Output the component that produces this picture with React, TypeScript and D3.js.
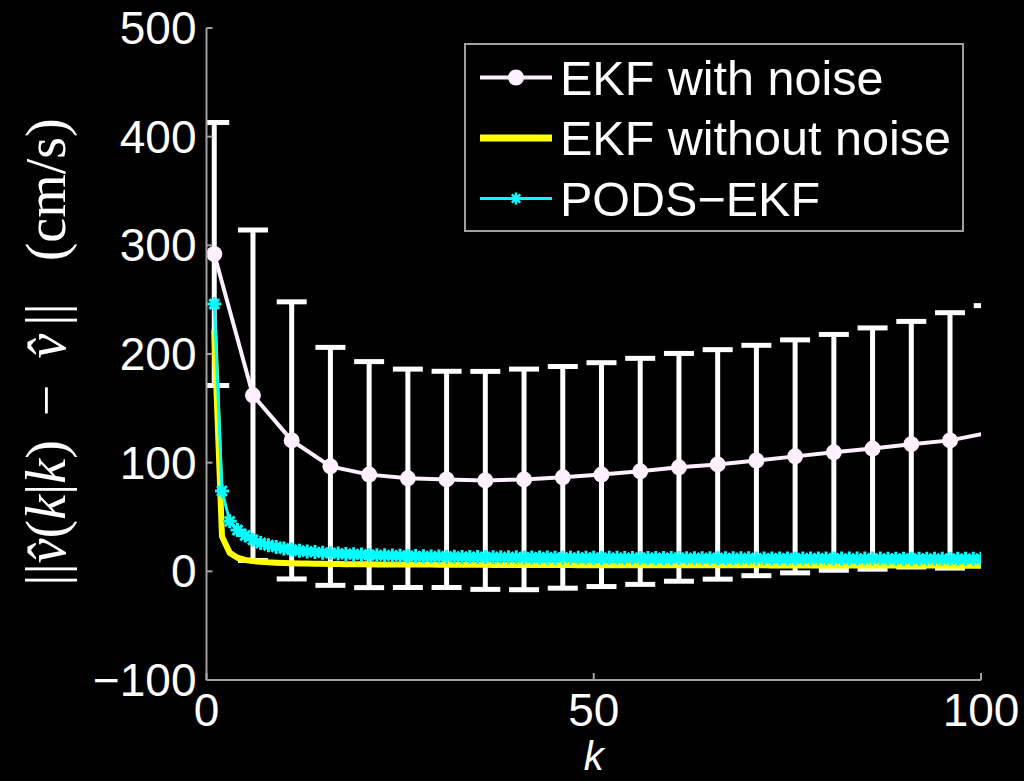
import React from 'react';
import * as d3 from 'd3';

// EKF with noise: mean and std at every 5th step (last one sits just past the axis)
const noiseK = [1, 6, 11, 16, 21, 26, 31, 36, 41, 46, 51, 56, 61, 66, 71, 76, 81, 86, 91, 96, 101];
const noiseMean = [292, 162, 120.5, 96.6, 89, 85.6, 84.6, 83.7, 84.6, 86.5, 89, 92, 95.7, 98.4, 102, 105.8, 109.5, 113, 117, 120.5, 127.5];
const noiseStd = [121, 152, 127.5, 109.5, 104, 100.5, 99.5, 100.3, 101.5, 102, 103, 104, 104.8, 105.6, 106, 107.2, 108.5, 111, 113, 117.5, 117];

// EKF without noise, k = 1..100
const cleanVals = [
  222, 32, 17, 12.5, 10.5, 9.5, 8.8, 8.3, 8.0, 7.7,
  7.5, 7.3, 7.1, 7.0, 6.9, 6.8, 6.7, 6.6, 6.6, 6.5,
  6.5, 6.4, 6.4, 6.3, 6.3, 6.3, 6.2, 6.2, 6.2, 6.1,
  6.1, 6.1, 6.0, 6.0, 6.0, 6.0, 5.9, 5.9, 5.9, 5.9,
  5.9, 5.8, 5.8, 5.8, 5.8, 5.8, 5.8, 5.7, 5.7, 5.7,
  5.7, 5.7, 5.7, 5.7, 5.6, 5.6, 5.6, 5.6, 5.6, 5.6,
  5.6, 5.6, 5.5, 5.5, 5.5, 5.5, 5.5, 5.5, 5.5, 5.5,
  5.5, 5.5, 5.4, 5.4, 5.4, 5.4, 5.4, 5.4, 5.4, 5.4,
  5.4, 5.4, 5.4, 5.3, 5.3, 5.3, 5.3, 5.3, 5.3, 5.3,
  5.3, 5.3, 5.3, 5.3, 5.3, 5.2, 5.2, 5.2, 5.2, 5.2,
];

// PODS-EKF, k = 1..100
const podsVals = [
  246, 74, 46, 38, 33, 29, 26, 24, 22.5, 21,
  20, 19, 18.3, 17.7, 17.2, 16.8, 16.4, 16, 15.7, 15.4,
  15.1, 14.9, 14.7, 14.5, 14.3, 14.1, 14.0, 13.8, 13.7, 13.6,
  13.5, 13.4, 13.3, 13.2, 13.2, 13.1, 13.0, 13.0, 12.9, 12.9,
  12.8, 12.8, 12.7, 12.7, 12.6, 12.6, 12.6, 12.5, 12.5, 12.5,
  12.4, 12.4, 12.4, 12.3, 12.3, 12.3, 12.3, 12.2, 12.2, 12.2,
  12.2, 12.1, 12.1, 12.1, 12.1, 12.0, 12.0, 12.0, 12.0, 12.0,
  11.9, 11.9, 11.9, 11.9, 11.9, 11.8, 11.8, 11.8, 11.8, 11.8,
  11.8, 11.7, 11.7, 11.7, 11.7, 11.7, 11.7, 11.6, 11.6, 11.6,
  11.6, 11.6, 11.6, 11.6, 11.5, 11.5, 11.5, 11.5, 11.5, 11.5,
];

const yTicks = [-100, 0, 100, 200, 300, 400, 500];
const xTicks = [0, 50, 100];
const legendLabels = ['EKF with noise', 'EKF without noise', 'PODS\u2212EKF'];

const W = 1024;
const H = 781;
const L = 206.5, R = 981, T = 28, B = 680;
const font = '"Liberation Sans", Arial, sans-serif';
const pink = '#fff0ff';

const starPath = (s: number) =>
  `M${-s},0H${s}M0,${-s}V${s}M${-s * 0.7},${-s * 0.7}L${s * 0.7},${s * 0.7}M${-s * 0.7},${s * 0.7}L${s * 0.7},${-s * 0.7}`;

export default function App() {
  const x = d3.scaleLinear().domain([0, 100]).range([L, R]);
  const y = d3.scaleLinear().domain([-100, 500]).range([B, T]);
  const kIdx = d3.range(1, 101);

  const line = d3.line<[number, number]>().x(d => x(d[0])).y(d => y(d[1]));
  const noisePts: [number, number][] = noiseK.map((k, i) => [k, noiseMean[i]]);
  const cleanPts: [number, number][] = kIdx.map((k, i) => [k, cleanVals[i]]);
  const podsPts: [number, number][] = kIdx.map((k, i) => [k, podsVals[i]]);
  const capW = 15;

  return (
    <svg width={W} height={H} style={{ position: 'absolute', left: 0, top: 0, background: '#000' }}>
      <rect width={W} height={H} fill="#000" />
      <defs>
        <clipPath id="plot">
          <rect x={L} y={T} width={R - L} height={B - T} />
        </clipPath>
      </defs>

      <g clipPath="url(#plot)">
        {/* error bars */}
        {noiseK.map((k, i) => {
          const cx = x(k);
          const hi = y(noiseMean[i] + noiseStd[i]);
          const lo = y(noiseMean[i] - noiseStd[i]);
          return (
            <g key={k} stroke="#fff" strokeWidth={5}>
              <line x1={cx} x2={cx} y1={hi} y2={lo} />
              <line x1={cx - capW} x2={cx + capW} y1={hi} y2={hi} />
              <line x1={cx - capW} x2={cx + capW} y1={lo} y2={lo} />
            </g>
          );
        })}
        <path d={line(noisePts) ?? ''} fill="none" stroke={pink} strokeWidth={4} />
        {noiseK.filter(k => k <= 100).map((k, i) => (
          <circle key={k} cx={x(k)} cy={y(noiseMean[i])} r={8} fill={pink} />
        ))}
        <path d={line(cleanPts) ?? ''} fill="none" stroke="#ffff00" strokeWidth={6} strokeLinejoin="round" />
        <path d={line(podsPts) ?? ''} fill="none" stroke="#00ffff" strokeWidth={3} />
        {podsPts.map(p => (
          <path key={p[0]} transform={`translate(${x(p[0])},${y(p[1])})`} d={starPath(7)} stroke="#00ffff" strokeWidth={3} />
        ))}
      </g>

      {/* axes */}
      <g stroke="#a0a0a0" strokeWidth={2} fill="none">
        <line x1={L} x2={L} y1={T} y2={B} />
        <line x1={L} x2={R} y1={B} y2={B} />
        {yTicks.map(t => (
          <line key={t} x1={L} x2={L + 6} y1={y(t)} y2={y(t)} />
        ))}
        {xTicks.map(t => (
          <line key={t} x1={x(t)} x2={x(t)} y1={B} y2={B - 7} />
        ))}
      </g>
      <g fill="#fff" fontFamily={font} fontSize={46}>
        {yTicks.map(t => (
          <text key={t} x={L - 10} y={y(t)} textAnchor="end" dominantBaseline="central">
            {t < 0 ? `\u2212${Math.abs(t)}` : t}
          </text>
        ))}
        {xTicks.map(t => (
          <text key={t} x={x(t)} y={710} textAnchor="middle" dominantBaseline="central">
            {t}
          </text>
        ))}
        <text x={x(50)} y={770} textAnchor="middle" fontStyle="italic" fontSize={40}>k</text>
      </g>

      {/* y label */}
      <text
        transform={`translate(46,352) rotate(-90)`}
        textAnchor="middle"
        dominantBaseline="central"
        fill="#fff"
        fontFamily='"Liberation Serif", "DejaVu Serif", serif'
        fontSize={56}
      >
        <tspan>||</tspan>
        <tspan fontStyle="italic">{'v\u0302'}</tspan>
        <tspan>(</tspan>
        <tspan fontStyle="italic">k</tspan>
        <tspan>|</tspan>
        <tspan fontStyle="italic">k</tspan>
        <tspan>)</tspan>
        <tspan dx={24}>{'\u2212'}</tspan>
        <tspan dx={26} fontStyle="italic">{'v\u0302'}</tspan>
        <tspan dx={8}>||</tspan>
        <tspan dx={42}>(cm/s)</tspan>
      </text>

      {/* legend */}
      <g>
        <rect x={465} y={44} width={498} height={187} fill="#000" stroke="#a0a0a0" strokeWidth={2} />
        {legendLabels.map((lab, i) => {
          const ly = 77.5 + i * 60.5;
          return (
            <g key={lab}>
              {i === 0 && (
                <g>
                  <line x1={480} x2={552} y1={ly} y2={ly} stroke={pink} strokeWidth={4} />
                  <circle cx={516} cy={ly} r={8} fill={pink} />
                </g>
              )}
              {i === 1 && <line x1={480} x2={552} y1={ly} y2={ly} stroke="#ffff00" strokeWidth={7} />}
              {i === 2 && (
                <g>
                  <line x1={480} x2={552} y1={ly} y2={ly} stroke="#00ffff" strokeWidth={3} />
                  <path transform={`translate(516,${ly})`} d={starPath(6)} stroke="#00ffff" strokeWidth={2.5} />
                </g>
              )}
              <text x={560} y={ly} dominantBaseline="central" fill="#fff" fontFamily={font} fontSize={48.5}>
                {lab}
              </text>
            </g>
          );
        })}
      </g>
    </svg>
  );
}
